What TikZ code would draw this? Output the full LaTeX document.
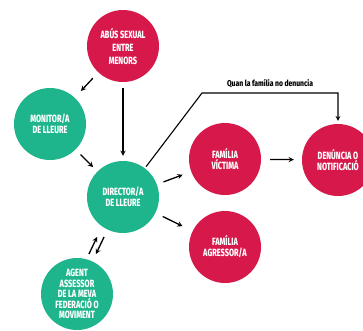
\documentclass[tikz,border=0pt]{standalone}
\usepackage{fontspec}
\setmainfont{Fira Sans}
\newfontfamily\estreta[FakeStretch=0.7]{Fira Sans ExtraBold}
\newfontfamily\etiqueta[FakeStretch=0.8]{Fira Sans ExtraBold}
\definecolor{vermell}{RGB}{214,24,74}
\definecolor{verd}{RGB}{30,181,140}

\begin{document}
\begin{tikzpicture}[x=1pt,y=-1pt,
  cercle/.style={circle,minimum size=72pt,inner sep=0pt,align=center,text=white,
    font=\estreta\fontsize{10.5}{11}\selectfont},
  roig/.style={cercle,fill=vermell},
  verdcer/.style={cercle,fill=verd},
  fletxa/.style={line width=1.3pt,->,>=stealth}]
 \useasboundingbox (0,0) rectangle (363,330); %marc
 \clip (0,0) rectangle (363,330);
 \node[roig,font=\estreta\fontsize{10.5}{13}\selectfont] (abus) at (123,46) {ABÚS SEXUAL\\ENTRE\\MENORS}; %origen
 \node[verdcer] (monitor) at (50,124) {MONITOR/A\\DE LLEURE};
 \node[verdcer] (director) at (123,197) {DIRECTOR/A\\DE LLEURE};
 \node[verdcer,inner sep=-8pt,font=\estreta\fontsize{10.5}{10.5}\selectfont] (agent) at (77,294) {AGENT\\ASSESSOR\\DE LA MEVA\\FEDERACIÓ O\\MOVIMENT};
 \node[roig] (victima) at (225,159) {FAMÍLIA\\VÍCTIMA};
 \node[roig] (denuncia) at (338,160) {DENÚNCIA O\\NOTIFICACIÓ};
 \node[roig] (agressor) at (225,247) {FAMÍLIA\\AGRESSOR/A};
 \coordinate (gir) at (202,93); %cantonada
 \draw[fletxa,shorten <=8pt,shorten >=9pt] (abus) -- (monitor);
 \draw[fletxa,shorten <=6pt,shorten >=5pt] (abus) -- (director);
 \draw[fletxa,shorten <=7pt,shorten >=6pt] (monitor) -- (director);
 \draw[fletxa,shorten <=7pt,shorten >=9pt] (director) -- (victima);
 \draw[fletxa,shorten <=8pt,shorten >=11pt] (director) -- (agressor);
 \draw[fletxa,shorten <=9pt,shorten >=8pt] (victima) -- (denuncia);
 \draw[fletxa,shorten <=8pt,shorten >=8pt,transform canvas={xshift=-7pt}] (agent) -- (director); %anada
 \draw[fletxa,shorten <=8pt,shorten >=8pt] (director) -- (agent); %tornada
 \draw[fletxa,line width=1.1pt,shorten <=2pt,shorten >=3pt] (director) -- (gir) -| node[pos=0.25,above=1pt,text=black,font=\etiqueta\fontsize{8.5}{9}\selectfont] {Quan la família no denuncia} (denuncia);
\end{tikzpicture}
\end{document}
